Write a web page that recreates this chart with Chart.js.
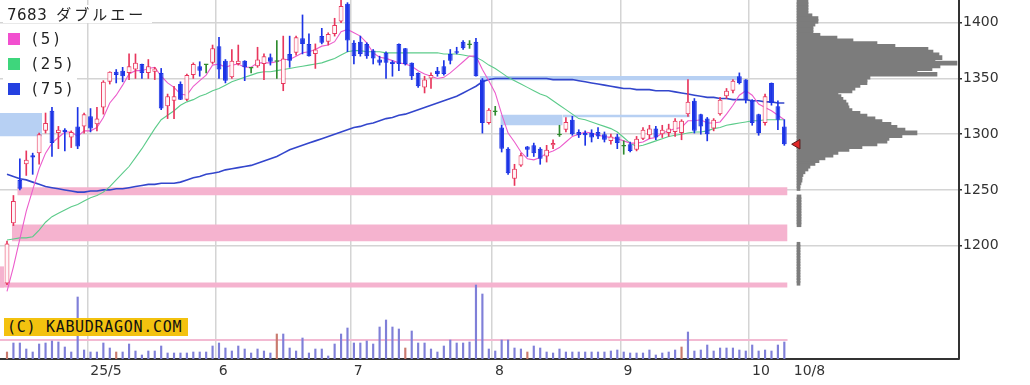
<!DOCTYPE html>
<html>
<head>
<meta charset="utf-8">
<script src="https://cdn.jsdelivr.net/npm/chart.js@4.4.1/dist/chart.umd.min.js"></script>
<style>
  body { margin: 0; background: #fff; }
  #wrap { position: relative; width: 1030px; height: 385px; }
  .box { position: absolute; background: #fff; color: #222; }
  .title { left: 3px; top: 5px; height: 18px; padding: 0 6px 0 4px; font: 15px "DejaVu Sans", "Noto Sans CJK JP"; line-height: 18px; letter-spacing: 0.5px; }
  .title span { font-family: "Noto Sans CJK JP"; font-size: 15px; letter-spacing: 3px; margin-left: 9px; }
  .legend { left: 3px; top: 27px; width: 74px; height: 74px; }
  .sw { position: absolute; left: 5px; width: 12px; height: 12px; }
  .lb { position: absolute; left: 29px; font: 15px "DejaVu Sans"; letter-spacing: 3px; line-height: 16px; }
  .copy { position: absolute; left: 4px; top: 318px; width: 181px; height: 18px; padding-left: 3px;
          background: #f3c20f; color: #111; font: 15px "DejaVu Sans Mono"; line-height: 18px; letter-spacing: 0.7px; }
</style>
</head>
<body>
<div id="wrap">
  <canvas id="chart" width="1030" height="385"></canvas>
  <div class="box title">7683<span>ダブルエー</span></div>
  <div class="box legend">
    <div class="sw" style="top:6px;background:#f24fcf"></div><div class="lb" style="top:4px">(5)</div>
    <div class="sw" style="top:31px;background:#3ed67c"></div><div class="lb" style="top:29px">(25)</div>
    <div class="sw" style="top:56px;background:#2440e0"></div><div class="lb" style="top:54px">(75)</div>
  </div>
  <div class="copy">(C) KABUDRAGON.COM</div>
</div>
<script>
// daily candles, mid April -> 10/8
const openP = [1166,1220,1259,1273,1281,1283,1303,1321,1301,1304,1297,1307,1307,1316,1309,1324,1347,1356,1357,1355,
  1358,1363,1355,1356,1355,1325,1330,1345,1331,1353,1361,1362,1364,1379,1366,1351,1363,1366,1359,1361,
  1363,1369,1365,1345,1372,1373,1386,1381,1372,1388,1383,1390,1401,1417,1382,1383,1381,1375,1367,1373,
  1365,1381,1377,1364,1355,1342,1350,1357,1361,1372,1374,1383,1380,1383,1349,1310,1320,1306,1287,1260,
  1272,1289,1290,1287,1280,1290,1299,1304,1313,1302,1301,1301,1302,1300,1294,1298,1289,1291,1286,1296,
  1299,1305,1300,1301,1302,1301,1318,1330,1318,1314,1305,1318,1334,1339,1352,1349,1330,1318,1310,1346,
  1325,1307];
const highP = [1204,1245,1278,1285,1283,1301,1319,1324,1307,1305,1303,1324,1319,1323,1324,1348,1356,1358,1360,1372,
  1372,1363,1367,1360,1359,1336,1343,1347,1354,1364,1365,1362,1380,1387,1367,1376,1380,1366,1360,1378,
  1372,1372,1384,1388,1388,1388,1407,1390,1381,1395,1391,1404,1420,1418,1384,1388,1382,1376,1370,1374,
  1366,1381,1377,1364,1355,1352,1355,1360,1366,1376,1378,1384,1384,1386,1350,1323,1325,1308,1288,1273,
  1283,1289,1292,1288,1290,1295,1308,1315,1316,1304,1303,1304,1306,1302,1300,1300,1294,1293,1298,1306,
  1308,1307,1308,1309,1314,1313,1349,1332,1318,1315,1314,1333,1341,1349,1355,1349,1331,1318,1336,1346,
  1330,1313];
const lowP = [1165,1218,1250,1263,1264,1273,1301,1280,1287,1285,1288,1287,1301,1302,1303,1318,1345,1346,1347,1349,
  1350,1350,1350,1349,1322,1314,1314,1331,1330,1350,1352,1355,1363,1350,1346,1350,1362,1348,1355,1360,
  1349,1362,1350,1339,1360,1371,1372,1370,1359,1381,1380,1388,1400,1374,1363,1370,1368,1363,1362,1350,
  1352,1357,1362,1349,1342,1337,1341,1352,1353,1363,1372,1376,1377,1352,1301,1309,1317,1284,1264,1254,
  1271,1280,1280,1273,1275,1287,1298,1302,1299,1297,1290,1293,1296,1293,1291,1287,1282,1284,1285,1295,
  1296,1295,1297,1298,1298,1295,1316,1301,1300,1294,1303,1317,1332,1337,1345,1328,1308,1299,1308,1326,
  1304,1290];
const closeP = [1202,1240,1251,1277,1279,1300,1310,1292,1304,1302,1302,1289,1318,1305,1314,1347,1356,1353,1352,1361,
  1364,1355,1361,1359,1323,1334,1334,1331,1353,1363,1357,1362,1377,1358,1348,1366,1366,1360,1359,1367,
  1370,1365,1365,1368,1366,1387,1381,1370,1376,1382,1390,1398,1415,1384,1370,1372,1370,1368,1364,1364,
  1363,1363,1363,1352,1343,1349,1353,1354,1354,1366,1373,1377,1380,1352,1310,1322,1320,1287,1265,1269,
  1281,1286,1283,1278,1286,1292,1299,1311,1300,1299,1299,1297,1298,1295,1298,1292,1289,1285,1296,1304,
  1305,1297,1304,1305,1312,1312,1329,1303,1307,1300,1313,1331,1339,1348,1346,1331,1310,1301,1334,1328,
  1313,1291];
const volume = [7,16,16,10,7,15,16,18,17,12,7,62,9,7,7,16,11,7,7,15,
  8,4,8,8,13,6,6,6,6,7,7,7,13,16,11,8,13,10,6,10,
  8,6,25,25,11,8,21,6,10,10,3,15,25,31,16,16,18,15,32,39,
  32,30,11,28,16,16,10,7,13,19,16,16,17,74,65,10,8,19,19,11,
  10,7,13,11,7,6,10,7,7,7,7,7,7,7,8,9,7,6,6,6,
  9,4,6,7,9,12,27,8,9,14,8,11,11,11,9,8,14,8,9,8,
  14,17];
const volRedIdx = [0, 17, 42, 62, 81, 105];
const volRefLevel = 19;

const ma5 = [1159,1181,1206,1231,1250,1269,1283,1292,1297,1302,1302,1298,1303,1303,1306,1315,1328,1335,1344,1354,
  1357,1357,1359,1360,1352,1346,1342,1336,1335,1343,1348,1353,1362,1363,1360,1362,1363,1360,1360,1364,
  1364,1364,1365,1367,1367,1370,1373,1374,1376,1379,1380,1383,1392,1394,1391,1388,1382,1373,1369,1368,
  1366,1364,1363,1361,1357,1354,1352,1350,1351,1355,1360,1365,1370,1370,1358,1348,1337,1318,1301,1293,
  1284,1278,1277,1279,1283,1285,1288,1293,1298,1300,1302,1301,1299,1298,1297,1296,1294,1292,1292,1293,
  1296,1297,1301,1303,1305,1306,1312,1312,1313,1310,1310,1311,1318,1326,1335,1339,1335,1327,1324,1321,
  1317,1313];
const ma25 = [1205,1206,1207,1207,1208,1214,1221,1226,1229,1232,1235,1237,1240,1243,1245,1248,1253,1259,1265,1271,
  1279,1287,1296,1305,1313,1317,1321,1326,1329,1331,1334,1336,1339,1341,1344,1347,1349,1351,1353,1355,
  1356,1356,1357,1358,1359,1360,1361,1362,1363,1364,1366,1368,1371,1374,1375,1375,1374,1374,1374,1373,
  1373,1373,1373,1373,1373,1373,1373,1373,1372,1372,1372,1371,1370,1369,1366,1362,1359,1355,1351,1348,
  1345,1342,1339,1336,1334,1330,1326,1322,1318,1314,1313,1311,1309,1307,1305,1302,1297,1292,1289,1290,
  1292,1294,1296,1298,1299,1300,1301,1302,1302,1303,1305,1306,1308,1309,1310,1311,1312,1312,1313,1313,
  1313,1313];
const ma75 = [1264,1262,1260,1259,1257,1255,1253,1252,1251,1250,1249,1248,1248,1249,1249,1250,1250,1251,1251,1252,
  1253,1254,1255,1255,1256,1256,1256,1257,1259,1261,1262,1264,1265,1266,1268,1269,1270,1271,1272,1274,
  1276,1278,1280,1283,1286,1288,1290,1292,1294,1296,1298,1300,1302,1304,1306,1307,1309,1310,1312,1314,
  1315,1317,1318,1320,1322,1324,1326,1328,1330,1332,1334,1337,1340,1343,1347,1349,1350,1350,1350,1350,
  1350,1350,1350,1350,1350,1349,1349,1349,1349,1348,1347,1346,1345,1344,1343,1342,1341,1341,1340,1340,
  1340,1339,1339,1339,1338,1337,1336,1335,1334,1333,1333,1332,1332,1331,1331,1331,1330,1330,1329,1329,
  1328,1328];

// first trading day of each month (index into the candles) and the axis texts
const monthStartIdx = [13, 33, 54, 76, 96, 116];
const dateLabels = ['25/5', '6', '7', '8', '9', '10', '10/8'];
const priceTicks = [1200, 1250, 1300, 1350, 1400];

// unfilled gaps (窓): candle index range and price range
const gapFrom = [-1.1, 0.75, 1.6, -1.1, -1.1, 73.6, 76.8, 86.5];
const gapTo   = [121.5, 121.5, 121.5, -0.45, 5.45, 114.1, 86.5, 106.3];
const gapLo   = [1162.5, 1204, 1245.2, 1162.5, 1298.2, 1348.5, 1308, 1315.2];
const gapHi   = [1167, 1219, 1252.4, 1181.4, 1319, 1352.1, 1317.5, 1317.5];
const gapDir  = ['up', 'up', 'up', 'up', 'down', 'down', 'down', 'down'];

// volume by price
const profilePrice = [1418.75,1416.25,1413.75,1411.25,1408.75,1406.25,1403.75,1401.25,1398.75,1396.25,
  1393.75,1391.25,1388.75,1386.25,1383.75,1381.25,1378.75,1376.25,1373.75,1371.25,
  1368.75,1366.25,1363.75,1361.25,1358.75,1356.25,1353.75,1351.25,1348.75,1346.25,
  1343.75,1341.25,1338.75,1336.25,1333.75,1331.25,1328.75,1326.25,1323.75,1321.25,
  1318.75,1316.25,1313.75,1311.25,1308.75,1306.25,1303.75,1301.25,1298.75,1296.25,
  1293.75,1291.25,1288.75,1286.25,1283.75,1281.25,1278.75,1276.25,1273.75,1271.25,
  1268.75,1266.25,1263.75,1261.25,1258.75,1256.25,1253.75,1251.25,
  1243.75,1241.25,1238.75,1236.25,1233.75,1231.25,1228.75,1226.25,1223.75,1221.25,1218.75,
  1201.25,1198.75,1196.25,1193.75,1191.25,1188.75,1186.25,1183.75,1181.25,1178.75,
  1176.25,1173.75,1171.25,1168.75,1166.25];
const profileVol = [11,11,11,11,11,15,21,21,18,16,
  16,16,23,40,56,80,98,131,136,142,
  145,138,160,143,135,120,140,73,70,70,
  63,58,55,41,44,46,49,51,52,55,
  63,70,78,85,94,100,108,120,105,92,
  90,80,65,52,41,36,28,22,18,13,
  11,8,6,5,5,4,3,3,
  4,4,4,4,4,4,4,4,4,4,4,
  3,3,3,3,3,3,3,3,3,3,
  3,3,3,3,3];
const lastPrice = 1291;

const RED = '#e8365d', BLUE = '#1c34e6', GREEN = '#2e8b2e';
const idx = closeP.map((_, i) => i);
const candleColor = idx.map(i => closeP[i] > openP[i] ? RED : (closeP[i] < openP[i] ? BLUE : GREEN));
const bodyFill = idx.map(i => closeP[i] > openP[i] ? '#fff6f8' : candleColor[i]);

const datasets = [];

gapLo.forEach((lo, k) => {
  datasets.push({
    type: 'line',
    data: [{ x: gapFrom[k], y: gapHi[k] }, { x: gapTo[k], y: gapHi[k] }],
    fill: { value: lo },
    backgroundColor: gapDir[k] === 'up' ? '#f5b3cf' : '#b7d0f3',
    borderWidth: 0,
    pointRadius: 0,
    order: 20
  });
});

datasets.push({
  type: 'line',
  yAxisID: 'yv',
  data: [{ x: gapFrom[0], y: volRefLevel }, { x: gapTo[0], y: volRefLevel }],
  borderColor: '#f3bad2',
  borderWidth: 2,
  pointRadius: 0,
  order: 16
});

datasets.push({
  type: 'bar',
  yAxisID: 'yv',
  data: idx.map(i => ({ x: i, y: volume[i] })),
  backgroundColor: idx.map(i => volRedIdx.includes(i) ? '#c97a6e' : '#7f7fd8'),
  barThickness: 1.5,
  grouped: false,
  order: 15
});

datasets.push({
  type: 'bar',
  indexAxis: 'y',
  xAxisID: 'x2',
  yAxisID: 'y3',
  data: profilePrice.map((p, i) => ({ y: p, x: profileVol[i] })),
  backgroundColor: '#7c7c7c',
  barThickness: 4,
  grouped: false,
  order: 12
});

[[ma75, '#3346cc', 1.6], [ma25, '#5ccb8a', 1.1], [ma5, '#ec5ccc', 1.1]].forEach(([arr, col, w], k) => {
  datasets.push({
    type: 'line',
    data: arr.map((v, i) => ({ x: i, y: v })),
    borderColor: col,
    borderWidth: w,
    pointRadius: 0,
    tension: 0,
    order: 8 - k
  });
});

// wicks
datasets.push({
  type: 'bar',
  data: idx.map(i => ({ x: i, y: [lowP[i], highP[i]] })),
  backgroundColor: candleColor,
  barThickness: 1,
  grouped: false,
  order: 3
});

// bodies
datasets.push({
  type: 'bar',
  data: idx.map(i => ({ x: i, y: [openP[i], closeP[i]] })),
  backgroundColor: bodyFill,
  borderColor: candleColor,
  borderWidth: 1,
  borderSkipped: false,
  minBarLength: 1.5,
  barPercentage: 0.75,
  categoryPercentage: 1,
  grouped: false,
  order: 2
});

// current price marker at the foot of the profile
datasets.push({
  type: 'line',
  showLine: false,
  data: [{ x: closeP.length + 1, y: lastPrice }],
  pointStyle: 'triangle',
  rotation: -90,
  pointRadius: 5.5,
  pointBackgroundColor: '#e02828',
  pointBorderColor: '#5a1a1a',
  pointBorderWidth: 1,
  order: 1
});

const yMin = 1098.3, yMax = 1420.4;
Chart.defaults.font.family = '"DejaVu Sans", sans-serif';

// hidden helper axes: keep the exact range (no rounding to nice ticks)
const fixed = (min, max) => ({
  type: 'linear', display: false, offset: false, bounds: 'data', min, max,
  afterBuildTicks: s => { s.min = min; s.max = max; }
});

new Chart(document.getElementById('chart'), {
  type: 'bar',
  data: { datasets },
  options: {
    responsive: false,
    animation: false,
    devicePixelRatio: 1,
    events: [],
    layout: { padding: 0, autoPadding: false },
    plugins: { legend: { display: false }, tooltip: { enabled: false } },
    scales: {
      x: {
        type: 'linear',
        position: 'bottom',
        min: -1.09,
        max: 148.19,
        offset: false,
        afterBuildTicks: s => {
          s.ticks = monthStartIdx.map(i => ({ value: i - 0.5 })).concat([{ value: closeP.length }]);
        },
        afterFit: s => { s.height = 26; s.paddingLeft = 0; s.paddingRight = 0; },
        grid: {
          offset: false,
          drawTicks: false,
          lineWidth: 1.5,
          color: c => (c.index === monthStartIdx.length ? 'rgba(0,0,0,0)' : '#d4d4d4')
        },
        border: { display: true, color: '#333', width: 2 },
        ticks: {
          autoSkip: false,
          maxRotation: 0,
          align: 'start',
          labelOffset: 3,
          padding: 4,
          color: '#333',
          font: { size: 14 },
          callback: (v, i) => dateLabels[i]
        }
      },
      y: {
        type: 'linear',
        position: 'right',
        min: yMin,
        max: yMax,
        afterBuildTicks: s => { s.ticks = priceTicks.map(v => ({ value: v })); },
        afterFit: s => { s.width = 71; s.paddingTop = 0; s.paddingBottom = 0; },
        grid: { lineWidth: 1.5, color: '#d4d4d4', tickLength: 3, tickColor: '#333' },
        border: { display: true, color: '#333', width: 2 },
        ticks: { padding: 1, color: '#333', font: { size: 14 }, callback: v => String(v) }
      },
      yv: fixed(0, 359),
      x2: fixed(-797, 162),
      y3: fixed(yMin, yMax)
    }
  }
});
</script>
</body>
</html>
